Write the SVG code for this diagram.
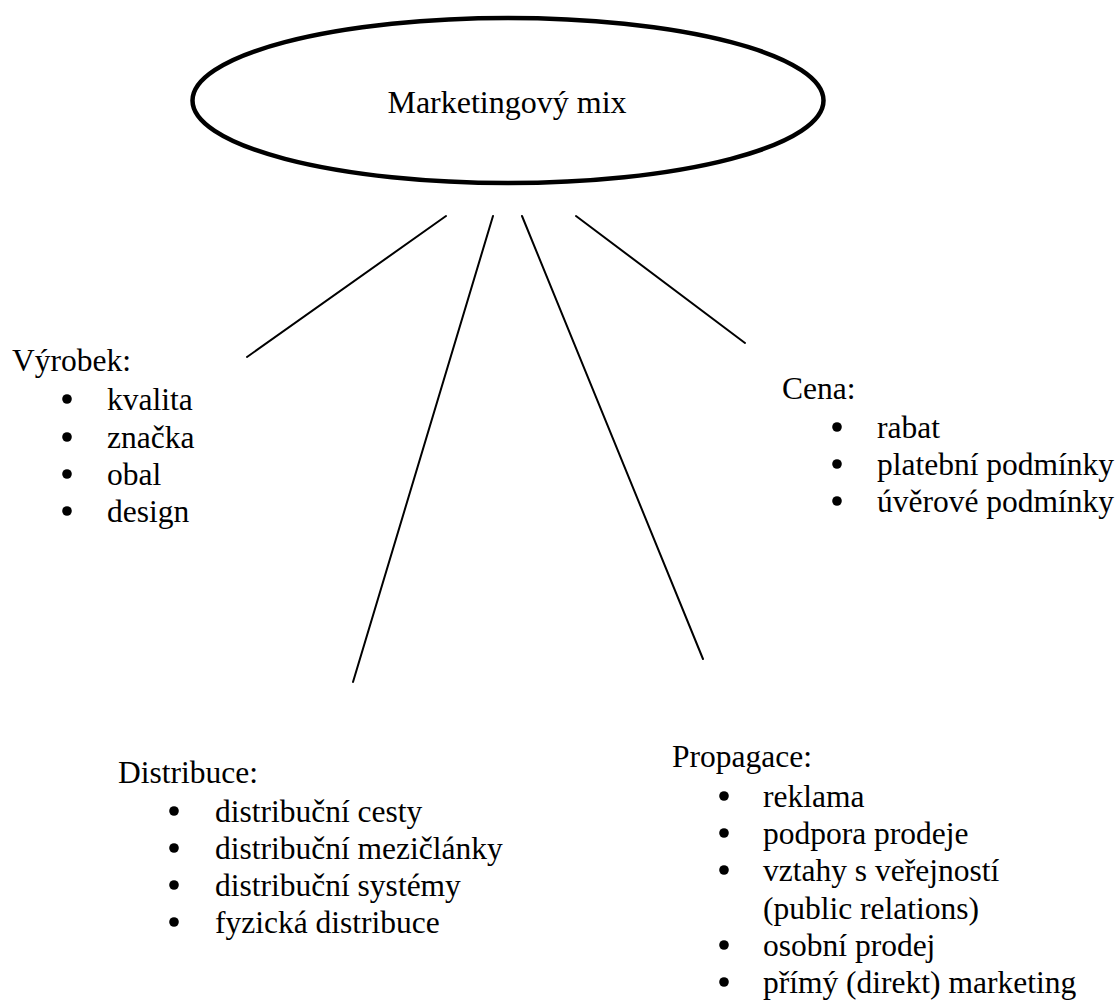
<svg xmlns="http://www.w3.org/2000/svg" width="1120" height="1005" viewBox="0 0 1120 1005">
<style>
text{font-family:"Liberation Serif","Times New Roman",serif;font-size:31.5px;fill:#000}
.b{fill:#000}
.c line{stroke:#000;stroke-width:2;stroke-linecap:round}
</style>
<rect width="1120" height="1005" fill="#fff"/>
<g id="connectors" class="c">
<line x1="446" y1="216" x2="247" y2="357"/>
<line x1="493" y1="216" x2="353" y2="682"/>
<line x1="522" y1="216" x2="703" y2="659"/>
<line x1="576" y1="216" x2="745" y2="343"/>
</g>
<g id="center">
<ellipse cx="508" cy="100.5" rx="315.5" ry="82.5" fill="#fff" stroke="#000" stroke-width="4.5"/>
<text x="507" y="113" text-anchor="middle" style="font-size:32px">Marketingový mix</text>
</g>
<g id="vyrobek">
<text x="12" y="371">Výrobek:</text>
<circle class="b" cx="67" cy="399" r="4.8"/><text x="107" y="410">kvalita</text>
<circle class="b" cx="67" cy="437" r="4.8"/><text x="107" y="448">značka</text>
<circle class="b" cx="67" cy="474" r="4.8"/><text x="107" y="485">obal</text>
<circle class="b" cx="67" cy="511" r="4.8"/><text x="107" y="522">design</text>
</g>
<g id="cena">
<text x="782" y="399">Cena:</text>
<circle class="b" cx="837" cy="427" r="4.8"/><text x="877" y="438">rabat</text>
<circle class="b" cx="837" cy="464" r="4.8"/><text x="877" y="475">platební podmínky</text>
<circle class="b" cx="837" cy="501" r="4.8"/><text x="877" y="512">úvěrové podmínky</text>
</g>
<g id="distribuce">
<text x="118" y="783">Distribuce:</text>
<circle class="b" cx="174" cy="811" r="4.8"/><text x="215" y="822">distribuční cesty</text>
<circle class="b" cx="174" cy="848" r="4.8"/><text x="215" y="859">distribuční mezičlánky</text>
<circle class="b" cx="174" cy="885" r="4.8"/><text x="215" y="896">distribuční systémy</text>
<circle class="b" cx="174" cy="922" r="4.8"/><text x="215" y="933">fyzická distribuce</text>
</g>
<g id="propagace">
<text x="672" y="767">Propagace:</text>
<circle class="b" cx="724" cy="796" r="4.8"/><text x="763" y="807">reklama</text>
<circle class="b" cx="724" cy="833" r="4.8"/><text x="763" y="844">podpora prodeje</text>
<circle class="b" cx="724" cy="870" r="4.8"/><text x="763" y="881">vztahy s veřejností</text>
<text x="763" y="919">(public relations)</text>
<circle class="b" cx="724" cy="945" r="4.8"/><text x="763" y="956">osobní prodej</text>
<circle class="b" cx="724" cy="982" r="4.8"/><text x="763" y="993">přímý (direkt) marketing</text>
</g>
</svg>
